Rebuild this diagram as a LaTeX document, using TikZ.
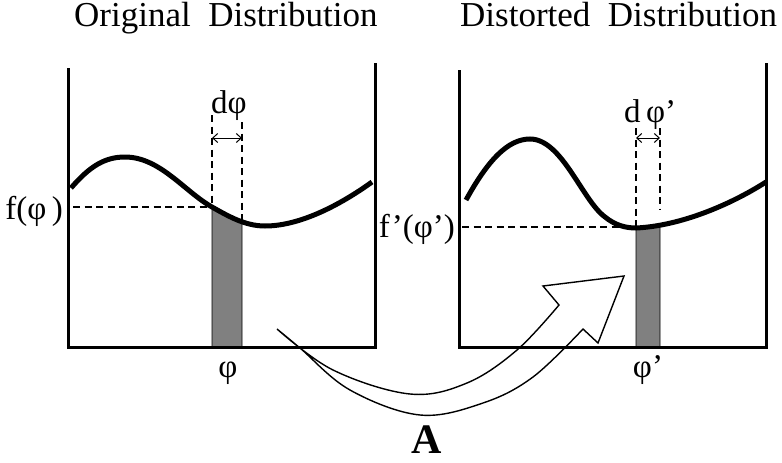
\documentclass[tikz,border=0pt]{standalone}
\usepackage{fontspec}
\setmainfont{Liberation Serif}
\usetikzlibrary{arrows.meta}
\begin{document}
\begin{tikzpicture}[x=1pt,y=-1pt,
  frame/.style={line width=3pt,line join=miter},
  curvestyle/.style={line width=5pt},
  dashline/.style={line width=2.7pt,dash pattern=on 7pt off 4.5pt},
  dimarrow/.style={line width=1pt,{Straight Barb[length=5pt,width=9pt]}-{Straight Barb[length=5pt,width=9pt]}},
  bar/.style={fill={rgb,255:red,128;green,128;blue,128},draw=black,line width=0.8pt},
  title/.style={font=\fontsize{35}{40}\selectfont,anchor=base west,inner sep=0pt},
  lab/.style={font=\fontsize{33}{38}\selectfont,anchor=base,inner sep=0pt},
  hollow/.style={line width=1.4pt,line join=miter}]
\useasboundingbox (0,0) rectangle (782,463);

% titles
\node[title] (t1) at (74,27) {Original\ \ Distribution};
\node[title] (t2) at (460,27) {Distorted\ \ Distribution};

% ---------- left panel ----------
\coordinate (L1) at (68,68);
\coordinate (L2) at (68,347);
\coordinate (L3) at (375,347);
\coordinate (L4) at (375,63);
\draw[bar] (212,208) -- (242,223) -- (242,347) -- (212,347) -- cycle;
\draw[frame] (L1) -- (L2) -- (L3) -- (L4);
\draw[curvestyle] (71,188) .. controls (90,166) and (105,157) .. (125,157)
  .. controls (160,157) and (185,192) .. (212,207)
  .. controls (228,216) and (245,226) .. (265,226)
  .. controls (300,226) and (340,205) .. (372,182);
\coordinate (lh1) at (73,207);
\coordinate (lh2) at (212,207);
\coordinate (lv1a) at (212,115);
\coordinate (lv2a) at (242,122);
\coordinate (lv2b) at (242,223);
\draw[dashline] (lh1) -- (lh2);
\draw[dashline] (lv1a) -- (lh2);
\draw[dashline] (lv2a) -- (lv2b);
\coordinate (la1) at (212,138);
\coordinate (la2) at (242,138);
\draw[dimarrow] (la1) -- (la2);
\node[lab] (dphi) at (229,113) {dφ};
\node[lab,anchor=base east] (fphi) at (63,219) {f(φ\,)};
\node[lab] (phi) at (228,377) {φ};

% ---------- right panel ----------
\coordinate (R1) at (459,70);
\coordinate (R2) at (459,347);
\coordinate (R3) at (766,347);
\coordinate (R4) at (766,63);
\draw[bar] (636,228) -- (660,225) -- (660,347) -- (636,347) -- cycle;
\draw[frame] (R1) -- (R2) -- (R3) -- (R4);
\draw[curvestyle] (466,200) .. controls (488,160) and (508,139) .. (530,139)
  .. controls (562,139) and (582,200) .. (605,217)
  .. controls (615,225) and (625,228) .. (636,228)
  .. controls (680,226) and (730,205) .. (766,182);
\coordinate (rh1) at (462,227);
\coordinate (rh2) at (620,227);
\coordinate (rv1a) at (636,128);
\coordinate (rv1b) at (636,227);
\coordinate (rv2a) at (660,128);
\coordinate (rv2b) at (660,210);
\draw[dashline] (rh1) -- (rh2);
\draw[dashline] (rv1a) -- (rv1b);
\draw[dashline] (rv2a) -- (rv2b);
\coordinate (ra1) at (636,138);
\coordinate (ra2) at (660,138);
\draw[dimarrow] (ra1) -- (ra2);
\node[lab,anchor=base west] (dphi2) at (624,122) {d\,φ’};
\node[lab,anchor=base east] (fphi2) at (455,237) {f’(φ’)};
\node[lab] (phi2) at (648,377) {φ’};

% ---------- hollow arrow ----------
\coordinate (tail) at (277,329);
\coordinate (s1) at (559,305);
\coordinate (b1) at (543,286);
\coordinate (tip) at (624,276);
\coordinate (b2) at (598,343);
\coordinate (s2) at (583,329);
\draw[hollow] plot[smooth,tension=0.6] coordinates {(277,329) (333,370) (410,394) (467,383) (517,350) (559,305)}
  -- (b1) -- (tip) -- (b2) -- (s2)
  -- plot[smooth,tension=0.6] coordinates {(583,329) (533,377) (483,403) (420,415) (350,390) (300,348) (277,329)} -- cycle;
\node[font=\fontsize{42}{48}\selectfont\bfseries,anchor=base,inner sep=0pt] (A) at (427,453) {A};
\end{tikzpicture}
\end{document}
